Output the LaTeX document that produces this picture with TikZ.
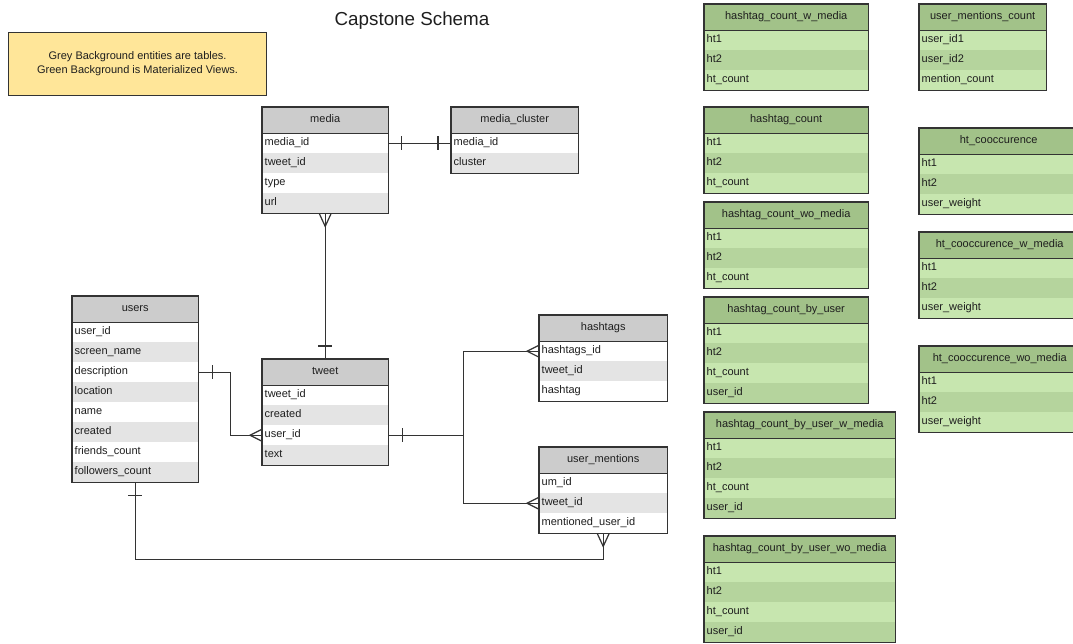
\documentclass[tikz,border=0pt]{standalone}
\usepackage{fontspec}
\setmainfont{Liberation Sans}
\usetikzlibrary{calc}

\definecolor{ink}{HTML}{333333}
\definecolor{txt}{HTML}{1E1E1E}
\definecolor{greyhead}{HTML}{CCCCCC}
\definecolor{greyrowB}{HTML}{E4E4E4}
\definecolor{greenhead}{HTML}{A2C289}
\definecolor{greenrowA}{HTML}{C7E6AF}
\definecolor{greenrowB}{HTML}{B5D49D}
\definecolor{notefill}{HTML}{FFE699}

\tikzset{
  conn/.style={draw=ink, line width=1.2pt},
  tblborder/.style={draw=ink, line width=1.3pt},
  cell/.style={anchor=north west, inner xsep=2.5pt, inner ysep=0pt,
    minimum height=20pt, text height=8pt, text depth=2.5pt,
    text=txt, font=\fontsize{11}{13}\selectfont, align=left},
  headcell/.style={anchor=north west, inner sep=0pt, minimum height=26pt,
    text height=8pt, text depth=2.5pt,
    text=txt, font=\fontsize{11}{13}\selectfont, align=center},
}

% colour scheme for the next entity boxes
\newcommand{\greyscheme}{\def\hdfill{greyhead}\def\rowA{white}\def\rowB{greyrowB}}
\newcommand{\greenscheme}{\def\hdfill{greenhead}\def\rowA{greenrowA}\def\rowB{greenrowB}}

% entity box: name, left, top, right, title, fields
\newcommand{\erentity}[6]{%
  \pgfmathsetmacro\tw{#4-#2}%
  \pgfmathsetmacro\cw{#4-#2-5}%
  \node[headcell, fill=\hdfill, minimum width=\tw pt, text width=\tw pt] (#1-h) at (#2,#3) {#5};
  \foreach \fld [count=\k] in {#6} {
    \pgfmathsetmacro\ytop{#3+26+(\k-1)*20}
    \ifodd\k \def\rf{\rowA}\else\def\rf{\rowB}\fi
    \node[cell, fill=\rf, minimum width=\tw pt, text width=\cw pt] (#1-r\k) at (#2,\ytop) {\fld};
    \xdef\nrows{\k}
  }
  \pgfmathsetmacro\th{26+\nrows*20}%
  \node[anchor=north west, inner sep=0pt, minimum width=\tw pt, minimum height=\th pt] (#1) at (#2,#3) {};
  \draw[tblborder] (#1.north west) rectangle (#1.south east);
  \draw[tblborder] (#1-h.south west) -- (#1-h.south east);
}

\begin{document}
\begin{tikzpicture}[x=1pt, y=-1pt]
\useasboundingbox (0,0) rectangle (1073,643);
\begin{scope}
\clip (0,0) rectangle (1073,643);

% title and legend
\node[font=\fontsize{18.8}{22}\selectfont, text=txt] (title) at (412,21) {Capstone Schema};
\node[draw=ink, fill=notefill, line width=1.2pt, minimum width=258pt, minimum height=63pt,
  anchor=north west, align=center, text=txt, font=\fontsize{11}{14}\selectfont, inner sep=0pt] (note) at (8,32)
  {Grey Background entities are tables.\\Green Background is Materialized Views.};

% tables
\greyscheme
\erentity{media}{262}{107}{388}{media}{media\_id, tweet\_id, type, url}
\erentity{mediacluster}{451}{107}{578}{media\_cluster}{media\_id, cluster}
\erentity{users}{72}{296}{198}{users}{user\_id, screen\_name, description, location, name, created, friends\_count, followers\_count}
\erentity{tweet}{262}{359}{388}{tweet}{tweet\_id, created, user\_id, text}
\erentity{hashtags}{539}{315}{667}{hashtags}{hashtags\_id, tweet\_id, hashtag}
\erentity{usermentions}{539}{447}{667}{user\_mentions}{um\_id, tweet\_id, mentioned\_user\_id}

% materialized views
\greenscheme
\erentity{hcwm}{704}{4}{868}{hashtag\_count\_w\_media}{ht1, ht2, ht\_count}
\erentity{hc}{704}{107}{868}{hashtag\_count}{ht1, ht2, ht\_count}
\erentity{hcwom}{704}{202}{868}{hashtag\_count\_wo\_media}{ht1, ht2, ht\_count}
\erentity{hcbu}{704}{297}{868}{hashtag\_count\_by\_user}{ht1, ht2, ht\_count, user\_id}
\erentity{hcbuwm}{704}{412}{895}{hashtag\_count\_by\_user\_w\_media}{ht1, ht2, ht\_count, user\_id}
\erentity{hcbuwom}{704}{536}{895}{hashtag\_count\_by\_user\_wo\_media}{ht1, ht2, ht\_count, user\_id}
\erentity{umc}{919}{4}{1046}{user\_mentions\_count}{user\_id1, user\_id2, mention\_count}
\erentity{htc}{919}{128}{1078}{ht\_cooccurence}{ht1, ht2, user\_weight}
\erentity{htcwm}{919}{232}{1080}{ht\_cooccurence\_w\_media}{ht1, ht2, user\_weight}
\erentity{htcwom}{919}{346}{1080}{ht\_cooccurence\_wo\_media}{ht1, ht2, user\_weight}

% media -- media_cluster (one to one)
\draw[conn] (media-r1.east) -- (mediacluster-r1.west);
\draw[conn] ([xshift=13pt,yshift=7pt]media-r1.east) -- ([xshift=13pt,yshift=-7pt]media-r1.east);
\draw[conn] ([xshift=-13pt,yshift=7pt]mediacluster-r1.west) -- ([xshift=-13pt,yshift=-7pt]mediacluster-r1.west);

% tweet -- media (one to many)
\draw[conn] (tweet.north) -- (media.south);
\draw[conn] ([yshift=13pt,xshift=-7pt]tweet.north) -- ([yshift=13pt,xshift=7pt]tweet.north);
\draw[conn] ([xshift=-6pt]media.south) -- ([yshift=-13pt]media.south) -- ([xshift=6pt]media.south);

% users -- tweet (one to many)
\draw[conn] (users-r3.east) -- ++(32,0) |- (tweet-r3.west);
\draw[conn] ([xshift=14pt,yshift=7pt]users-r3.east) -- ([xshift=14pt,yshift=-7pt]users-r3.east);
\draw[conn] ([yshift=6pt]tweet-r3.west) -- ([xshift=-12pt]tweet-r3.west) -- ([yshift=-6pt]tweet-r3.west);

% tweet -- hashtags / user_mentions (one to many)
\coordinate (hub) at ($(tweet-r3.east)+(75,0)$);
\draw[conn] (tweet-r3.east) -- (hub);
\draw[conn] ([xshift=14pt,yshift=7pt]tweet-r3.east) -- ([xshift=14pt,yshift=-7pt]tweet-r3.east);
\draw[conn] (hashtags-r1.west) -| (hub) |- (usermentions-r2.west);
\draw[conn] ([yshift=6pt]hashtags-r1.west) -- ([xshift=-12pt]hashtags-r1.west) -- ([yshift=-6pt]hashtags-r1.west);
\draw[conn] ([yshift=6pt]usermentions-r2.west) -- ([xshift=-12pt]usermentions-r2.west) -- ([yshift=-6pt]usermentions-r2.west);

% users -- user_mentions (one to many)
\draw[conn] (users.south) |- ($(usermentions.south)+(0,26)$) -- (usermentions.south);
\draw[conn] ([yshift=-13pt,xshift=-7pt]users.south) -- ([yshift=-13pt,xshift=7pt]users.south);
\draw[conn] ([xshift=-6pt]usermentions.south) -- ([yshift=-13pt]usermentions.south) -- ([xshift=6pt]usermentions.south);
\end{scope}
\end{tikzpicture}
\end{document}
